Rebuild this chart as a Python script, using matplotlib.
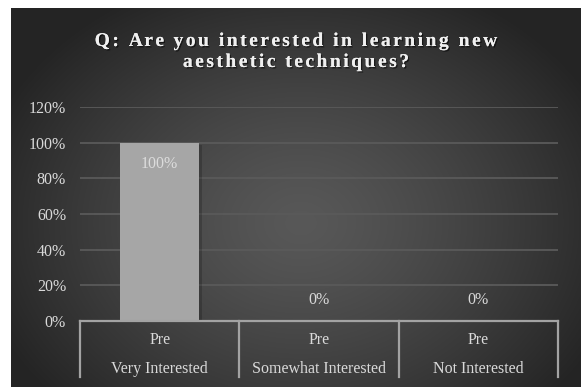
import numpy as np
import matplotlib
matplotlib.use("Agg")
import matplotlib.pyplot as plt
import matplotlib.patheffects as pe
from matplotlib.transforms import blended_transform_factory

# Survey results
title_lines = ["Q: Are you interested in learning new", "aesthetic techniques?"]
group = "Pre"
categories = ["Very Interested", "Somewhat Interested", "Not Interested"]
values = [1.00, 0.00, 0.00]
yticks = [0, 0.2, 0.4, 0.6, 0.8, 1.0, 1.2]

serif = ["Liberation Serif", "DejaVu Serif"]
text_col = "#d9d9d9"

W, H = 581, 387
fig = plt.figure(figsize=(W / 100, H / 100), dpi=100, facecolor="white")

# dark radial background panel
bg = fig.add_axes([11 / W, 0, 570 / W, 379 / H], zorder=0)
gx, gy = np.meshgrid(np.linspace(0, 570, 570), np.linspace(0, 379, 379))
r = np.sqrt(((gx - 290) / 330) ** 2 + ((gy - 215) / 260) ** 2)
r = np.clip(r, 0, 1)
shade = 0.345 - (0.345 - 0.145) * r ** 1.3
bg.imshow(np.dstack([shade] * 3), extent=[0, 570, 379, 0], aspect="auto")
bg.axis("off")

ax = fig.add_axes([80 / W, (H - 321) / H, 478 / W, 214 / H], zorder=1)
ax.set_facecolor("none")
x = np.arange(len(categories))
bars = ax.bar(x, values, width=0.5, color="#a6a6a6", zorder=3)
for b in bars:
    b.set_path_effects([pe.withSimplePatchShadow(offset=(2, -1.5), shadow_rgbFace="black", alpha=0.18), pe.Normal()])

ax.set_xlim(-0.5, len(categories) - 0.5)
ax.set_ylim(0, 1.2)
ax.set_yticks(yticks)
ax.set_yticklabels([f"{int(round(t * 100))}%" for t in yticks], fontfamily=serif, fontsize=11.5, color=text_col)
ax.tick_params(axis="y", length=0, pad=10)
ax.set_xticks([])
ax.grid(axis="y", color="#5a5a5a", linewidth=1.3, zorder=0)
for s in ax.spines.values():
    s.set_visible(False)

# value labels
for xi, v in zip(x, values):
    if v > 0:
        ax.annotate(f"{v:.0%}", (xi, v), xytext=(0, -15), textcoords="offset points",
                    ha="center", va="center", fontfamily=serif, fontsize=11.5, color="#dcdcdc", zorder=4)
    else:
        ax.annotate(f"{v:.0%}", (xi, v), xytext=(0, 15), textcoords="offset points",
                    ha="center", va="center", fontfamily=serif, fontsize=11.5, color=text_col, zorder=4)

# category bracket below the axis
tr = blended_transform_factory(ax.transData, ax.transAxes)
line_col = "#a3a3a3"
ax.plot([-0.5, len(categories) - 0.5], [0, 0], transform=tr, color=line_col, lw=1.6, clip_on=False, zorder=5)
for edge in np.arange(len(categories) + 1) - 0.5:
    ax.plot([edge, edge], [0, -56 / 214], transform=tr, color=line_col, lw=1.6, clip_on=False, zorder=5)
for xi, cat in zip(x, categories):
    ax.text(xi, -19 / 214, group, transform=tr, ha="center", va="center",
            fontfamily=serif, fontsize=11.5, color=text_col)
    ax.text(xi, -48 / 214, cat, transform=tr, ha="center", va="center",
            fontfamily=serif, fontsize=11.5, color=text_col)

# spaced-out bold title, laid out letter by letter
renderer = fig.canvas.get_renderer()
tkw = dict(fontfamily=serif, fontsize=14, fontweight="bold", color="#f0f0f0")
shadow = [pe.withSimplePatchShadow(offset=(1, -1), shadow_rgbFace="black", alpha=0.55), pe.Normal()]
spacing = 2.5


def text_width(s):
    t = fig.text(0, 0, s + "l", **tkw)
    w = t.get_window_extent(renderer).width
    t.remove()
    t = fig.text(0, 0, "l", **tkw)
    w -= t.get_window_extent(renderer).width
    t.remove()
    return w


for line, base in zip(title_lines, [46, 67]):
    total = text_width(line) + spacing * (len(line) - 1)
    x0 = 296 - total / 2
    for i, ch in enumerate(line):
        if ch == " ":
            continue
        px = x0 + text_width(line[:i]) + spacing * i
        fig.text(px / W, 1 - base / H, ch, ha="left", va="baseline", path_effects=shadow, **tkw)

fig.savefig("out.png", dpi=100, facecolor="white")
